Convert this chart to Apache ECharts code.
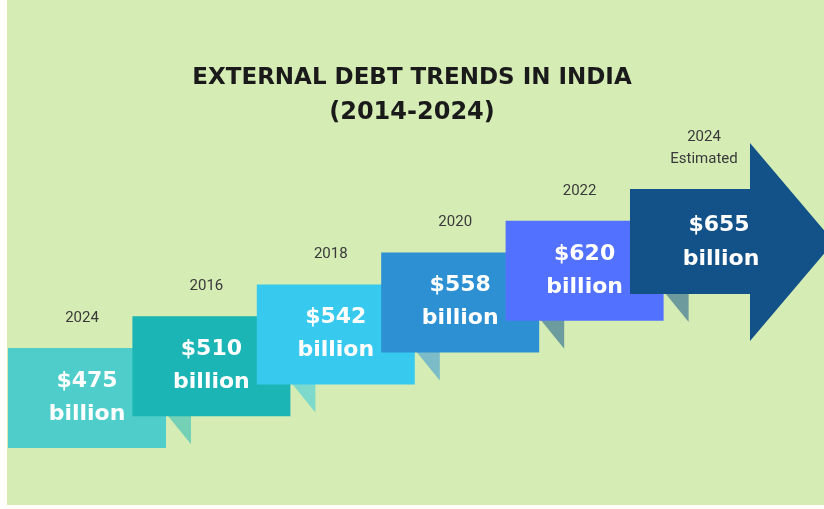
<!DOCTYPE html>
<html>
<head>
<meta charset="utf-8">
<script src="https://cdn.jsdelivr.net/npm/echarts@6/dist/echarts.min.js"></script>
<style>
  html,body{margin:0;padding:0;background:#ffffff;}
  #bg{position:absolute;left:7px;top:0;width:817px;height:505px;background:#d5ecb4;}
  #chart{position:absolute;left:0;top:0;width:824px;height:509px;}
</style>
</head>
<body>
<div id="bg"></div>
<div id="chart"></div>
<script>
// ---- data ----
const categories = ['2014', '2016', '2018', '2020', '2022', '2024'];
const yearLabels = ['2024', '2016', '2018', '2020', '2022', '2024\nEstimated'];
const debtValues = [475, 510, 542, 558, 620, 655];
const unitLabel = 'billion';

// ---- styles ----
const boxColors = ['#4ecdca', '#1ab5b4', '#38c9ef', '#2c90d3', '#5271ff', '#135289'];
const tailColors = ['#74d1b5', '#7dd9cc', '#7bbcc8', '#6d9c9f', '#6d9a9c'];
const BOX_W = 158, BOX_H = 100;
const ARROW_W = 120, ARROW_H = 105;
const valueFont = 'bold 22px "DejaVu Sans"';
const yearFont = '15px Roboto';

const chart = echarts.init(document.getElementById('chart'), null, {renderer: 'canvas'});

function renderItem(params, api) {
  const i = api.value(0);
  const p = api.coord([i, i]);
  const x = p[0], y = p[1];
  const n = categories.length;
  const last = i === n - 1;
  const children = [];
  const val = '$' + api.value(2);
  if (!last) {
    const np = api.coord([i + 1, i + 1]);
    const nextH = (i + 1 === n - 1) ? ARROW_H : BOX_H;
    const tTop = np[1] + nextH;
    children.push({
      type: 'polygon',
      shape: {points: [[x + BOX_W - 1, tTop - 4], [x + BOX_W + 25, tTop - 4], [x + BOX_W + 25, tTop + 28]]},
      style: {fill: tailColors[i]}
    });
    children.push({
      type: 'rect',
      shape: {x: x, y: y, width: BOX_W, height: BOX_H},
      style: {fill: boxColors[i]}
    });
    children.push({type: 'text', style: {text: val, x: x + BOX_W / 2, y: y + 33, fill: '#ffffff', font: valueFont, align: 'center', verticalAlign: 'middle'}});
    children.push({type: 'text', style: {text: unitLabel, x: x + BOX_W / 2, y: y + 66, fill: '#ffffff', font: valueFont, align: 'center', verticalAlign: 'middle'}});
    children.push({type: 'text', style: {text: yearLabels[i], x: x + BOX_W / 2 - 5, y: y - 30, fill: '#3a3a3a', font: yearFont, align: 'center', verticalAlign: 'middle'}});
  } else {
    children.push({
      type: 'polygon',
      shape: {points: [[x, y], [x + ARROW_W, y], [x + ARROW_W, y - 46], [x + ARROW_W + 84, y + 53], [x + ARROW_W, y + 152], [x + ARROW_W, y + ARROW_H], [x, y + ARROW_H]]},
      style: {fill: boxColors[i]}
    });
    children.push({type: 'text', style: {text: val, x: x + 89, y: y + 36, fill: '#ffffff', font: valueFont, align: 'center', verticalAlign: 'middle'}});
    children.push({type: 'text', style: {text: unitLabel, x: x + 91, y: y + 70, fill: '#ffffff', font: valueFont, align: 'center', verticalAlign: 'middle'}});
    children.push({type: 'text', style: {text: yearLabels[i], x: x + 74, y: y - 41, fill: '#3a3a3a', font: yearFont, lineHeight: 22, align: 'center', verticalAlign: 'middle'}});
  }
  return {type: 'group', children: children};
}

const seriesData = debtValues.map((v, i) => [i, i, v]);

chart.setOption({
  animation: false,
  backgroundColor: 'transparent',
  title: [
    {text: 'EXTERNAL DEBT TRENDS IN INDIA', left: 'center', top: 62,
     textStyle: {fontFamily: 'DejaVu Sans', fontWeight: 'bold', fontSize: 23, color: '#1a1a1a'}},
    {text: '(2014-2024)', left: 'center', top: 96,
     textStyle: {fontFamily: 'DejaVu Sans', fontWeight: 'bold', fontSize: 24, color: '#1a1a1a'}}
  ],
  grid: {left: 8, right: 194, top: 189, bottom: 161},
  xAxis: {type: 'category', data: categories, boundaryGap: false, show: false},
  yAxis: {type: 'category', data: categories, boundaryGap: false, show: false},
  series: [{
    type: 'custom',
    renderItem: renderItem,
    clip: false,
    data: seriesData,
    encode: {x: 0, y: 1}
  }]
});
</script>
</body>
</html>
